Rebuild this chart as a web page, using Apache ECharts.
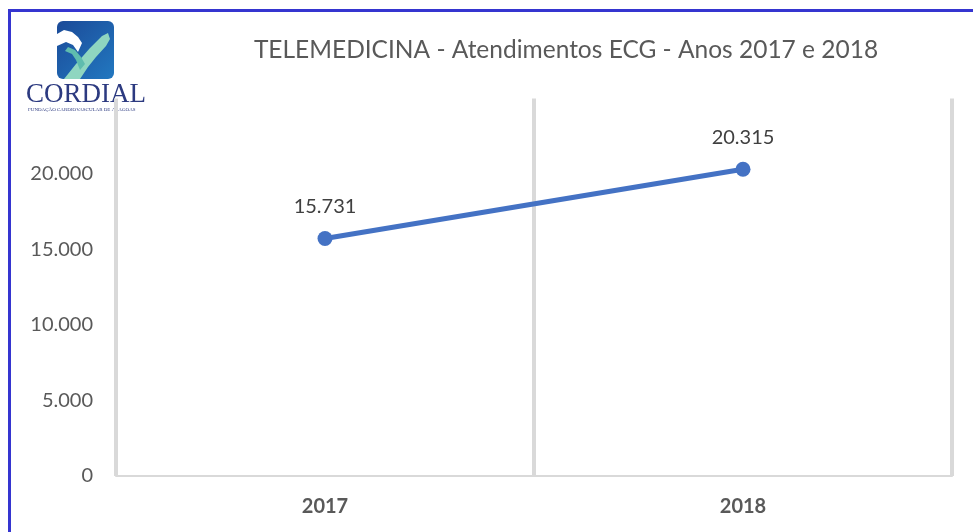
<!DOCTYPE html>
<html>
<head>
<meta charset="utf-8">
<title>TELEMEDICINA - Atendimentos ECG</title>
<script src="https://cdn.jsdelivr.net/npm/echarts@6/dist/echarts.min.js"></script>
<style>
    html, body { margin: 0; padding: 0; background: #fff; }
    #main { width: 973px; height: 532px; }
</style>
</head>
<body>
<div id="main"></div>
<script>
// dados
var anos = ['2017', '2018'];
var atendimentos = [15731, 20315];
var yTicks = [0, 5000, 10000, 15000, 20000, 25000];

var txtColor = '#595959';
var gridColor = '#d9d9d9';
var lineColor = '#4472c4';

// 15731 -> "15.731"
function fmt(v) {
    return String(v).replace(/\B(?=(\d{3})+(?!\d))/g, '.');
}

var myChart = echarts.init(document.getElementById('main'));
myChart.setOption({
    backgroundColor: '#fff',
    textStyle: { fontFamily: 'Lato' },
    title: {
        text: 'TELEMEDICINA - Atendimentos ECG - Anos 2017 e 2018',
        left: 561,
        textAlign: 'center',
        top: 33,
        textStyle: { fontFamily: 'Lato', fontSize: 24.5, fontWeight: 'normal', color: txtColor }
    },
    grid: { left: 116, right: 21, top: 98.5, bottom: 56 },
    xAxis: {
        type: 'category',
        data: anos,
        boundaryGap: true,
        axisLine: { lineStyle: { color: gridColor, width: 2 } },
        axisTick: { show: false },
        splitLine: { show: true, lineStyle: { color: gridColor, width: 4 } },
        axisLabel: { color: txtColor, fontSize: 20, fontWeight: 'bold', margin: 21 }
    },
    yAxis: {
        type: 'value',
        min: yTicks[0],
        max: yTicks[yTicks.length - 1],
        interval: yTicks[1] - yTicks[0],
        axisLine: { show: false },
        axisTick: { show: false },
        splitLine: { show: false },
        axisLabel: {
            color: txtColor,
            fontSize: 20,
            margin: 23,
            formatter: function (v) { return v === yTicks[yTicks.length - 1] ? '' : fmt(v); }
        }
    },
    series: [{
        name: 'Atendimentos ECG',
        type: 'line',
        data: atendimentos,
        symbol: 'circle',
        symbolSize: 15,
        lineStyle: { color: lineColor, width: 5 },
        itemStyle: { color: lineColor },
        label: {
            show: true,
            position: 'top',
            distance: 14,
            fontSize: 20,
            color: '#404040',
            formatter: function (p) { return fmt(p.value); }
        }
    }],
    graphic: [
        // moldura azul
        { type: 'rect', shape: { x: 8, y: 9, width: 3, height: 523 }, style: { fill: '#3535d0' } },
        { type: 'rect', shape: { x: 8, y: 9, width: 965, height: 3 }, style: { fill: '#3535d0' } },
        // logo
        { type: 'rect', shape: { x: 20, y: 15, width: 132, height: 100 }, style: { fill: '#fff' } },
        {
            type: 'rect', shape: { x: 57, y: 21, width: 57, height: 58, r: 6 },
            style: {
                fill: new echarts.graphic.LinearGradient(0, 0, 1, 1, [
                    { offset: 0, color: '#1b4a98' }, { offset: 1, color: '#2278c0' }
                ])
            }
        },
        {
            type: 'polygon',
            shape: { points: [[57, 34], [64, 30], [72, 32], [78, 37], [82, 43], [78, 52], [73, 45], [66, 42], [57, 46]] },
            style: { fill: '#fff' }
        },
        {
            type: 'polygon',
            shape: { points: [[64, 79], [76, 64], [90, 48], [102, 36], [108, 33], [110, 39], [106, 46], [96, 57], [88, 67], [80, 79]] },
            style: { fill: '#8fd6c0' }
        },
        {
            type: 'polygon',
            shape: { points: [[68, 47], [75, 50], [81, 57], [85, 64], [80, 70], [76, 60], [72, 54], [65, 51]] },
            style: { fill: '#5fbcae' }
        },
        {
            type: 'text', left: 26, top: 81,
            style: { text: 'CORDIAL', font: '27px "Liberation Serif"', fill: '#2c3a80' }
        },
        {
            type: 'text', left: 28, top: 107,
            style: { text: 'FUNDAÇÃO CARDIOVASCULAR DE ALAGOAS', font: '5px "Liberation Serif"', fill: '#2c3a80' }
        }
    ]
});
</script>
</body>
</html>
